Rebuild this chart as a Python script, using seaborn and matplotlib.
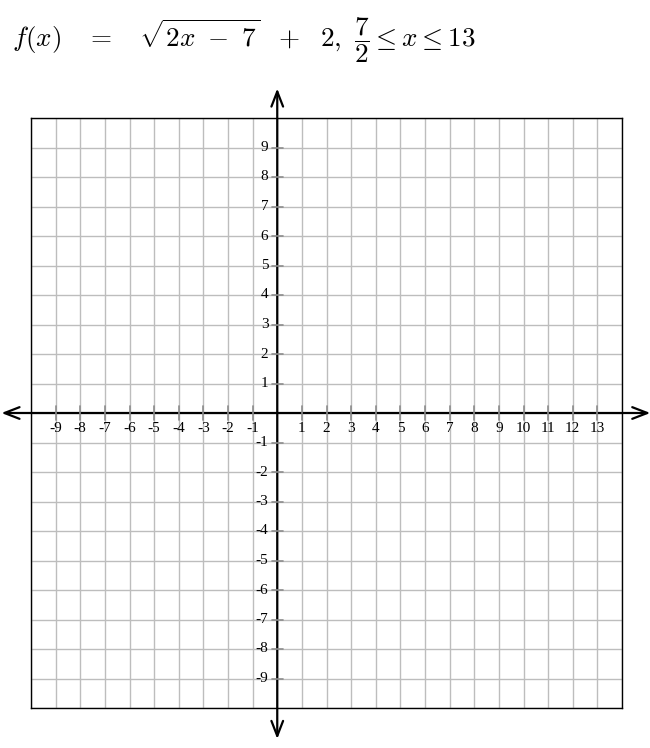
import numpy as np
import matplotlib
matplotlib.use("Agg")
import matplotlib.pyplot as plt
import seaborn as sns

# Data / labels
x_range = [-10, 14]
y_range = [-10, 10]
x_tick_values = [v for v in range(-9, 14) if v != 0]
y_tick_values = [v for v in range(-9, 10) if v != 0]
title_text = r"$f(x)\ \ \ =\ \ \ \sqrt{2x\ -\ 7}\ \ +\ \ 2,\ \dfrac{7}{2} \leq x \leq 13$"

sns.set_theme(style="white")
plt.rcParams["mathtext.fontset"] = "cm"
plt.rcParams["font.family"] = ["Liberation Serif", "DejaVu Serif"]

fig = plt.figure(figsize=(6.5, 7.48), dpi=100)
ax = fig.add_axes([31/650, 40/748, 591/650, 590/748])

ax.set_xlim(*x_range)
ax.set_ylim(*y_range)
ax.set_xticks(range(x_range[0], x_range[1] + 1))
ax.set_yticks(range(y_range[0], y_range[1] + 1))
ax.tick_params(length=0, labelbottom=False, labelleft=False)
ax.grid(True, color="#bdbdbd", linewidth=1.0)
for s in ax.spines.values():
    s.set_color("black")
    s.set_linewidth(1.0)
    s.set_visible(True)

# Axes with arrows
arrow_kw = dict(arrowstyle="<->,head_length=0.9,head_width=0.35", color="black", lw=1.6,
                shrinkA=0, shrinkB=0)
ax.annotate("", xy=(15.15, 0), xytext=(-11.2, 0), arrowprops=arrow_kw,
            annotation_clip=False, zorder=5)
ax.annotate("", xy=(0, 11.0), xytext=(0, -11.05), arrowprops=arrow_kw,
            annotation_clip=False, zorder=5)

# Tick marks and labels
tick_color = "#8c8c8c"
for v in x_tick_values:
    ax.plot([v, v], [-0.25, 0.25], color=tick_color, lw=1.2, zorder=6, clip_on=False)
    ax.text(v, -0.52, str(v), ha="center", va="center", fontsize=11, color="black")
for v in y_tick_values:
    ax.plot([-0.22, 0.22], [v, v], color=tick_color, lw=1.2, zorder=6, clip_on=False)
    ax.text(-0.36, v, str(v), ha="right", va="center", fontsize=11, color="black")

fig.text(12/650, 1 - 40/748, title_text, ha="left", va="center", fontsize=19.5, color="black")

fig.savefig("out.png", dpi=100, facecolor="white")
